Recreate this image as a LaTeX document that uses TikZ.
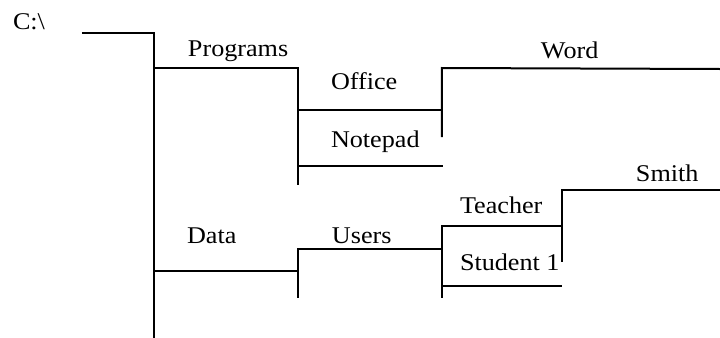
\documentclass[tikz,border=0pt]{standalone}
\usepackage{fontspec}
\setmainfont[FakeStretch=1.09]{Liberation Serif}

\begin{document}
\begin{tikzpicture}[x=0.5pt,y=-0.5pt,line width=1pt,
  lbl/.style={font=\fontsize{12}{14}\selectfont,inner sep=0pt,anchor=base west}]
   \useasboundingbox (0,0) rectangle (720,338);
   % C:\ and its trunk
   \coordinate (root) at (82,33);
   \coordinate (c0) at (154,33);
   \coordinate (c1) at (154,338);
   \draw (root) -- (c0) -- (c1);
   \node[lbl] (croot) at (12,29) {C:\textbackslash};
   % Programs
   \coordinate (p0) at (154,68);
   \coordinate (p1) at (298,68);
   \coordinate (p2) at (298,185);
   \draw (p0) -- (p1) -- (p2);
   \node[lbl] (programs) at (187,56) {Programs};
   % Office, Word
   \coordinate (o0) at (298,110);
   \coordinate (o1) at (442,110);
   \coordinate (o2) at (442,68);
   \coordinate (o3) at (442,137);
   \coordinate (w1) at (720,69);
   \draw (o0) -- (o1);
   \draw (w1) -- (o2) -- (o3);
   \node[lbl] (office) at (330,89) {Office};
   \node[lbl] (word) at (540,58) {Word};
   % Notepad
   \coordinate (n0) at (298,166);
   \coordinate (n1) at (443,166);
   \draw (n0) -- (n1);
   \node[lbl] (notepad) at (330,147) {Notepad};
   % Data, Users
   \coordinate (d0) at (154,271);
   \coordinate (d1) at (298,271);
   \coordinate (d2) at (298,298);
   \coordinate (u0) at (298,249);
   \coordinate (u1) at (442,249);
   \draw (d0) -- (d1);
   \draw (u1) -- (u0) -- (d2);
   \node[lbl] (data) at (186,243) {Data};
   \node[lbl] (users) at (331,243) {Users};
   % Teacher, Smith
   \coordinate (t0) at (442,226);
   \coordinate (t1) at (562,226);
   \coordinate (u2) at (442,298);
   \coordinate (s0) at (562,190);
   \coordinate (s1) at (720,190);
   \coordinate (t2) at (562,262);
   \draw (t1) -- (t0) -- (u2);
   \draw (s1) -- (s0) -- (t2);
   \node[lbl] (teacher) at (459,213) {Teacher};
   \node[lbl] (smith) at (635,181) {Smith};
   % Student 1
   \coordinate (st0) at (442,286);
   \coordinate (st1) at (562,286);
   \draw (st0) -- (st1);
   \node[lbl] (student) at (459,270) {Student 1};
  \end{tikzpicture}
\end{document}
